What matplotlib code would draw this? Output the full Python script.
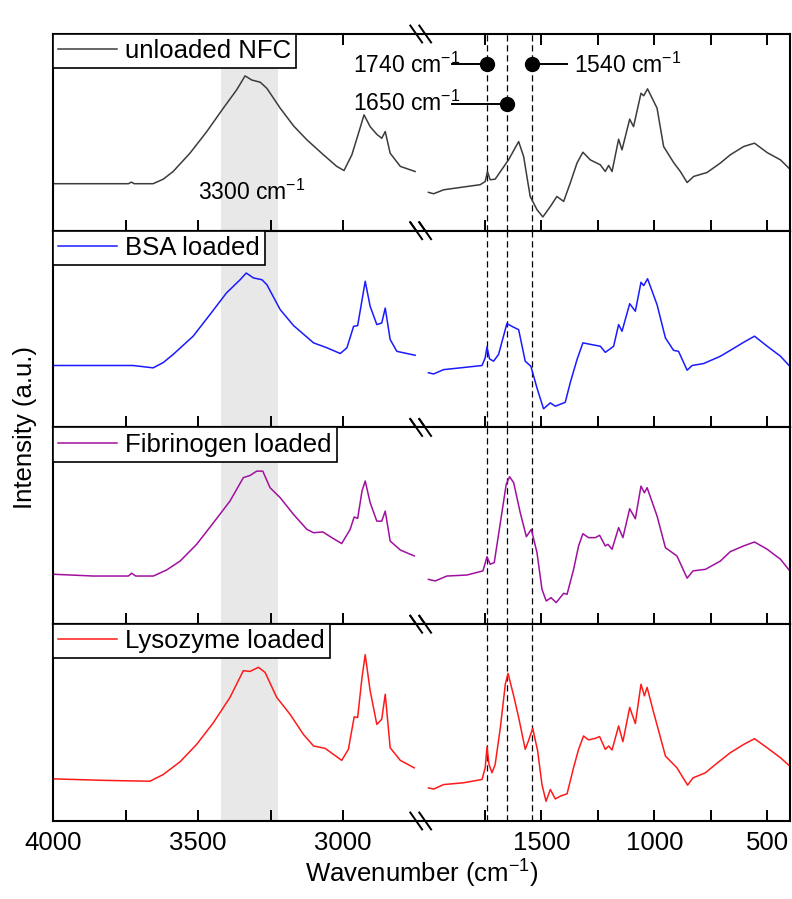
import numpy as np
import matplotlib
matplotlib.use("Agg")
import matplotlib.pyplot as plt

plt.rcParams['font.family'] = ['Liberation Sans', 'DejaVu Sans']
plt.rcParams['mathtext.default'] = 'regular'

# === Spectra (wavenumber in cm-1, intensity in a.u., panel-relative) ===
labels = ["unloaded NFC", "BSA loaded", "Fibrinogen loaded", "Lysozyme loaded"]
colors = ["#3c3c3c", "#1a1aff", "#a010a0", "#ff1a1a"]

nfc_wn = [4000, 3740, 3730, 3720, 3655, 3620, 3586, 3528, 3470, 3413, 3367, 3338, 3315, 3286, 3263, 3217,
          3171, 3125, 3068, 3022, 2997, 2970, 2947, 2928, 2907, 2884, 2867, 2855, 2838, 2803, 2752,
          1999, 1976, 1932, 1858, 1770, 1748, 1738, 1726, 1704, 1645, 1600, 1578, 1549, 1519, 1493,
          1460, 1431, 1401, 1372, 1342, 1316, 1283, 1239, 1217, 1202, 1187, 1158, 1143, 1109, 1092,
          1059, 1047, 1030, 988, 959, 915, 885, 855, 826, 767, 708, 664, 605, 557, 501, 442, 398]
nfc_int = [0.239, 0.239, 0.247, 0.239, 0.239, 0.262, 0.301, 0.394, 0.504, 0.623, 0.716, 0.787, 0.766, 0.755, 0.724, 0.623,
           0.533, 0.462, 0.386, 0.327, 0.306, 0.386, 0.496, 0.589, 0.529, 0.49, 0.47, 0.504, 0.394, 0.327, 0.301,
           0.195, 0.188, 0.208, 0.22, 0.234, 0.25, 0.301, 0.259, 0.262, 0.36, 0.453, 0.377, 0.174, 0.107, 0.07,
           0.123, 0.174, 0.149, 0.242, 0.344, 0.399, 0.36, 0.335, 0.301, 0.332, 0.301, 0.465, 0.411, 0.567, 0.529,
           0.699, 0.686, 0.721, 0.623, 0.428, 0.347, 0.301, 0.245, 0.276, 0.296, 0.344, 0.386, 0.428, 0.445, 0.397, 0.36, 0.31]

bsa_wn = [3999, 3724, 3655, 3620, 3586, 3517, 3459, 3402, 3355, 3334, 3309, 3280, 3263, 3217, 3171, 3102,
          3056, 3010, 2987, 2964, 2950, 2924, 2907, 2884, 2867, 2855, 2838, 2815, 2752,
          1999, 1976, 1932, 1858, 1762, 1748, 1740, 1729, 1711, 1689, 1652, 1630, 1600, 1571, 1546,
          1519, 1490, 1460, 1438, 1394, 1372, 1342, 1316, 1276, 1239, 1217, 1195, 1180, 1158, 1143,
          1109, 1084, 1059, 1047, 1030, 988, 951, 915, 893, 855, 833, 782, 708, 664, 605, 557, 501, 442, 401]
bsa_int = [0.315, 0.315, 0.303, 0.33, 0.371, 0.464, 0.574, 0.684, 0.751, 0.785, 0.76, 0.751, 0.726, 0.599, 0.518, 0.43,
           0.405, 0.376, 0.405, 0.514, 0.518, 0.743, 0.616, 0.523, 0.531, 0.607, 0.447, 0.387, 0.367,
           0.278, 0.272, 0.294, 0.303, 0.315, 0.354, 0.41, 0.349, 0.337, 0.371, 0.528, 0.514, 0.497, 0.337, 0.311,
           0.201, 0.095, 0.125, 0.108, 0.128, 0.227, 0.345, 0.43, 0.421, 0.413, 0.382, 0.4, 0.413, 0.523, 0.489,
           0.629, 0.591, 0.738, 0.721, 0.756, 0.624, 0.455, 0.392, 0.387, 0.291, 0.315, 0.325, 0.362, 0.392, 0.433,
           0.464, 0.413, 0.362, 0.311]

fib_wn = [3999, 3862, 3740, 3729, 3715, 3654, 3608, 3562, 3505, 3447, 3390, 3344, 3321, 3298, 3277, 3252,
          3217, 3171, 3125, 3102, 3070, 3039, 3005, 2976, 2962, 2950, 2935, 2924, 2907, 2884, 2867, 2855,
          2838, 2803, 2755,
          1999, 1969, 1917, 1829, 1758, 1740, 1726, 1708, 1681, 1655, 1640, 1622, 1593, 1566, 1544, 1519,
          1497, 1478, 1457, 1434, 1401, 1386, 1357, 1335, 1316, 1291, 1261, 1242, 1217, 1205, 1187, 1158,
          1139, 1109, 1084, 1059, 1044, 1032, 988, 951, 900, 855, 829, 774, 708, 664, 605, 557, 501, 442, 401]
fib_int = [0.254, 0.245, 0.245, 0.259, 0.245, 0.245, 0.276, 0.321, 0.406, 0.516, 0.626, 0.745, 0.756, 0.778, 0.778, 0.694,
           0.643, 0.558, 0.482, 0.465, 0.469, 0.44, 0.41, 0.482, 0.545, 0.538, 0.677, 0.728, 0.618, 0.524, 0.524, 0.575,
           0.423, 0.377, 0.347,
           0.228, 0.22, 0.245, 0.25, 0.271, 0.343, 0.305, 0.313, 0.516, 0.711, 0.75, 0.719, 0.567, 0.445, 0.482, 0.364,
           0.178, 0.118, 0.135, 0.11, 0.157, 0.152, 0.279, 0.398, 0.46, 0.44, 0.44, 0.452, 0.398, 0.406, 0.381, 0.491,
           0.44, 0.587, 0.536, 0.702, 0.668, 0.694, 0.55, 0.389, 0.347, 0.234, 0.271, 0.279, 0.321, 0.369, 0.398,
           0.418, 0.381, 0.33, 0.271]

lys_wn = [3999, 3815, 3666, 3620, 3562, 3505, 3447, 3390, 3344, 3321, 3292, 3269, 3229, 3183, 3137, 3102,
          3062, 3033, 3005, 2982, 2962, 2950, 2935, 2924, 2907, 2884, 2867, 2855, 2838, 2803, 2755,
          1999, 1976, 1932, 1844, 1762, 1748, 1740, 1731, 1718, 1704, 1681, 1659, 1647, 1622, 1600, 1571,
          1557, 1538, 1516, 1497, 1479, 1460, 1438, 1416, 1386, 1357, 1335, 1313, 1291, 1261, 1242, 1217,
          1202, 1187, 1158, 1139, 1109, 1084, 1059, 1044, 1032, 1003, 981, 951, 900, 853, 829, 774, 730,
          664, 605, 557, 501, 442, 401]
lys_int = [0.214, 0.206, 0.202, 0.236, 0.301, 0.389, 0.5, 0.628, 0.764, 0.76, 0.781, 0.755, 0.628, 0.542, 0.44, 0.381,
           0.369, 0.338, 0.308, 0.364, 0.529, 0.526, 0.73, 0.845, 0.662, 0.491, 0.517, 0.644, 0.372, 0.308, 0.27,
           0.168, 0.162, 0.185, 0.194, 0.211, 0.27, 0.376, 0.287, 0.245, 0.287, 0.474, 0.695, 0.75, 0.636, 0.526, 0.364,
           0.406, 0.471, 0.356, 0.185, 0.1, 0.16, 0.112, 0.126, 0.138, 0.272, 0.364, 0.432, 0.412, 0.42, 0.429, 0.364,
           0.381, 0.361, 0.483, 0.403, 0.577, 0.495, 0.695, 0.636, 0.679, 0.551, 0.458, 0.33, 0.27, 0.182, 0.219,
           0.245, 0.287, 0.347, 0.389, 0.418, 0.372, 0.321, 0.279]

spectra = [(nfc_wn, nfc_int), (bsa_wn, bsa_int), (fib_wn, fib_int), (lys_wn, lys_int)]

marker_wn = [1740, 1650, 1540]
band = (3420, 3225)
major_ticks = [4000, 3500, 3000, 1500, 1000, 500]
minor_ticks = [3750, 3250, 1750, 1250, 750]


# broken wavenumber axis: 4000-2750 and 2000-400 with different scales
def to_axis(w):
    w = np.asarray(w, dtype=float)
    u = np.where(w >= 2750, (4000 - w) * 0.29,
                 np.where(w >= 2000, 362.5 + (2750 - w) * (12.5 / 750),
                          375 + (2000 - w) * 0.226))
    return -u


def from_axis(v):
    u = -np.asarray(v, dtype=float)
    return np.where(u <= 362.5, 4000 - u / 0.29,
                    np.where(u <= 375, 2750 - (u - 362.5) * 60,
                             2000 - (u - 375) / 0.226))


fig = plt.figure(figsize=(7.92, 8.99), dpi=100)
gs = fig.add_gridspec(4, 1, left=0.0669, right=0.9975, top=0.9622, bottom=0.0868, hspace=0)

for i, ((wn, inten), lab, col) in enumerate(zip(spectra, labels, colors)):
    ax = fig.add_subplot(gs[i])
    ax.set_xscale('function', functions=(to_axis, from_axis))
    ax.set_xlim(4000, 400)
    ax.set_ylim(0, 1)

    ax.axvspan(band[0], band[1], color='#e8e8e8', lw=0, zorder=0)
    for x in marker_wn:
        ax.axvline(x, color='k', ls=(0, (5, 3)), lw=0.9, zorder=1)

    wn = np.array(wn)
    inten = np.array(inten)
    hi = wn > 2400
    ax.plot(wn[hi], inten[hi], color=col, lw=1.1, label=lab, zorder=2)
    ax.plot(wn[~hi], inten[~hi], color=col, lw=1.1, zorder=2)

    ax.set_xticks(major_ticks)
    ax.set_xticks(minor_ticks, minor=True)
    ax.tick_params(axis='x', which='both', direction='in', length=8, width=1.4,
                   top=(i == 0), labelbottom=(i == 3), labelsize=18.5, pad=7)
    ax.set_yticks([])
    for sp in ax.spines.values():
        sp.set_linewidth(1.5)

    # break marks on the axis lines
    for yb in (0, 1):
        for xc in (0.4928, 0.505):
            ax.plot([xc - 0.008, xc + 0.008], [yb + 0.043, yb - 0.043], color='k', lw=1.4,
                    transform=ax.transAxes, clip_on=False, zorder=5)

    leg = ax.legend(loc='upper left', borderaxespad=0, fancybox=False, edgecolor='k',
                    framealpha=1, fontsize=18.5, handlelength=2.3, handletextpad=0.3,
                    borderpad=0.2)
    leg.get_frame().set_linewidth(1.2)

    if i == 0:
        ax.text(3499, 0.157, '3300 cm$^{-1}$', ha='left', va='baseline', fontsize=16.5)
        # peak markers with leader lines
        ax.plot([1894, 1740], [0.846, 0.846], color='k', lw=1.4)
        ax.plot([1894, 1650], [0.645, 0.645], color='k', lw=1.4)
        ax.plot([1540, 1386], [0.846, 0.846], color='k', lw=1.4)
        ax.plot(marker_wn, [0.846, 0.645, 0.846], 'o', color='k', ms=10, zorder=6)
        ax.text(1858, 0.803, '1740 cm$^{-1}$', ha='right', va='baseline', fontsize=16.5)
        ax.text(1858, 0.611, '1650 cm$^{-1}$', ha='right', va='baseline', fontsize=16.5)
        ax.text(1357, 0.803, '1540 cm$^{-1}$', ha='left', va='baseline', fontsize=16.5)

    if i == 3:
        ax.set_xlabel('Wavenumber (cm$^{-1}$)', fontsize=18.5, labelpad=2)

fig.text(0.031, 0.5245, 'Intensity (a.u.)', rotation=90, ha='center', va='center', fontsize=18.5)

plt.savefig('out.png', dpi=100)
